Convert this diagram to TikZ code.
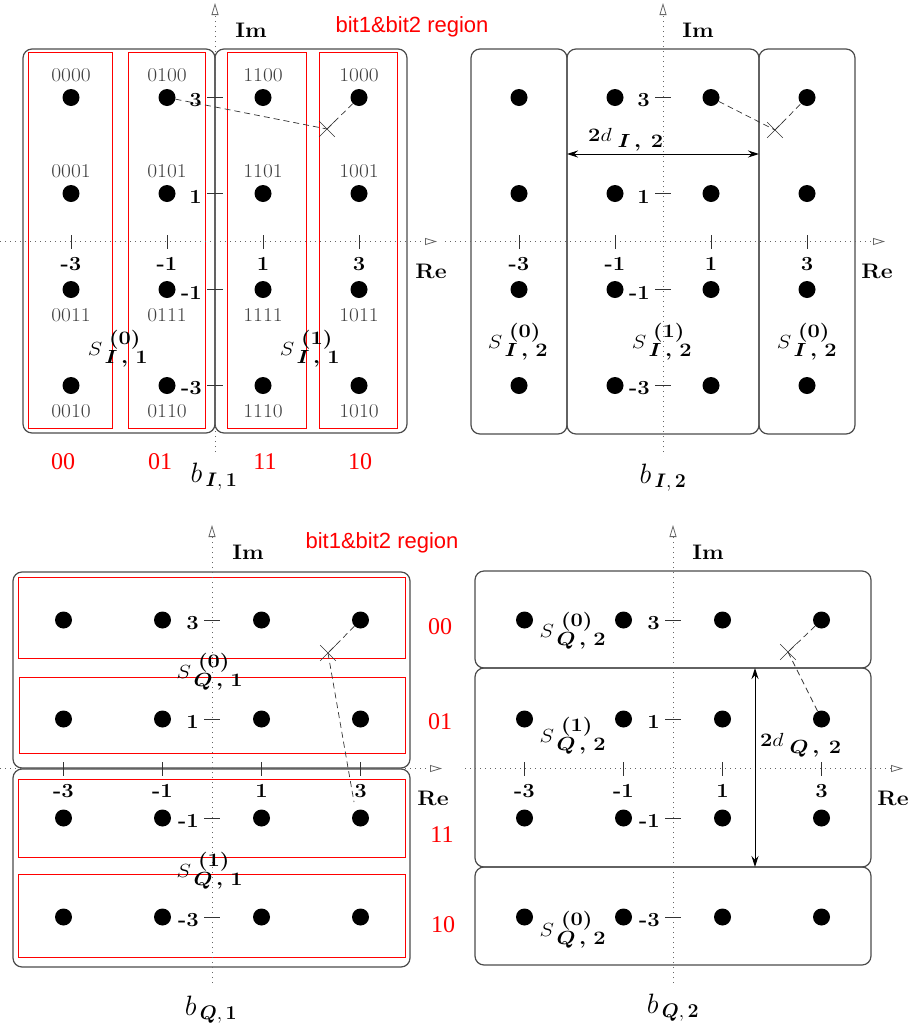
\RequirePackage{fix-cm}
\documentclass[tikz,border=0pt]{standalone}
\usepackage{fontspec}
\usepackage{bm}
\newfontfamily\redfont{Liberation Serif}
\newfontfamily\regfont{Liberation Sans}
\usetikzlibrary{arrows.meta,shapes.misc}
\newcommand\hx[1]{\scalebox{1.1}[1]{#1}}
\newcommand\slabel[3]{\scalebox{1.15}[1]{$S^{\textstyle\hspace{6pt}\bm{(#1)}}_{\textstyle\,\bm{#2}\,\bm{,}\,\bm{#3}}$}}
\newcommand\blabel[2]{$b_{\,\bm{#1},\,\bm{#2}}$}
\newcommand\dlabel[2]{\scalebox{1.15}[1]{$\bm{2}d_{\textstyle\;\bm{#1}\,\bm{,}\;\bm{#2}}$}}
\tikzset{
  dot/.style={circle, fill=black, inner sep=0pt, minimum size=17pt},
  axis/.style={draw=black!60, line width=0.9pt, dash pattern=on 1pt off 4pt,
    -{Triangle[open,length=12pt,width=7pt,line width=0.8pt,sep=0pt]}},
  tick/.style={line width=0.8pt, draw=black!80},
  grpbox/.style={draw=black!70, line width=1.2pt, rounded corners=9pt},
  redbox/.style={draw=red, line width=1pt},
  bits/.style={font=\fontsize{19.5}{19.5}\selectfont, text=black!75, inner sep=0pt},
  tlab/.style={font=\bfseries\fontsize{20}{20}\selectfont, inner sep=0pt},
  axlab/.style={font=\bfseries\fontsize{21}{21}\selectfont, inner sep=0pt},
  redlab/.style={text=red, font=\redfont\fontsize{24}{24}\selectfont, inner sep=0pt},
  reglab/.style={text=red, font=\regfont\fontsize{22}{22}\selectfont, inner sep=0pt},
  slab/.style={font=\fontsize{19}{19}\selectfont, inner sep=0pt},
  blab/.style={font=\fontsize{28}{28}\selectfont, inner sep=0pt},
  guess/.style={draw=black!80, line width=0.7pt, dash pattern=on 6pt off 4pt},
  xmark/.style={draw=black!80, cross out, minimum size=15pt, inner sep=0pt, line width=0.6pt},
  dist/.style={line width=1pt, {Stealth[length=11pt,width=7pt]}-{Stealth[length=11pt,width=7pt]}}
}
% #1 prefix, #2 Ox, #3 Oy, #4 unit, #5 h start, #6 h end, #7 v top, #8 v bottom
\newcommand\mypanel[8]{%
  \coordinate (#1hs) at (#5,#3);
  \coordinate (#1he) at (#6,#3);
  \coordinate (#1vs) at (#2,#8);
  \coordinate (#1ve) at (#2,#7);
  \draw[axis] (#1hs) -- (#1he);
  \draw[axis] (#1vs) -- (#1ve);
  \foreach \xv/\xn in {-3/m3,-1/m1,1/p1,3/p3}{
    \coordinate (#1tx\xn) at (#2+#4*\xv,#3);
    \draw[tick] ([yshift=-7pt]#1tx\xn) -- ([yshift=7pt]#1tx\xn);
    \node[tlab] (#1lx\xn) at (#2+#4*\xv,#3+0.46*#4) {\hx{\xv}};
    \foreach \yv/\yn in {3/p3,1/p1,-1/m1,-3/m3}{
      \node[dot] (#1\xn\yn) at (#2+#4*\xv,#3-#4*\yv) {};
    }
  }
  \foreach \yv/\yn in {3/p3,1/p1,-1/m1,-3/m3}{
    \coordinate (#1ty\yn) at (#2,#3-#4*\yv);
    \draw[tick] ([xshift=-8pt]#1ty\yn) -- ([xshift=8pt]#1ty\yn);
    \node[tlab,anchor=east] (#1ly\yn) at (#2-13,#3-#4*\yv+3) {\hx{\yv}};
  }
}
\begin{document}
\begin{tikzpicture}[x=1pt,y=-1pt]
\useasboundingbox (0,0) rectangle (915,1034);
% ---------------- panel A : b_{I,1}
\draw[grpbox] (23,49) rectangle (215,433);
\draw[grpbox] (215,49) rectangle (407,433);
\draw[redbox] (28,52) rectangle (112,428);
\draw[redbox] (128,52) rectangle (205,428);
\draw[redbox] (227,52) rectangle (306,428);
\draw[redbox] (319,52) rectangle (397,428);
\mypanel{A}{215}{241.5}{48}{0}{437}{3}{452}
\foreach \xv/\xn/\xb in {-3/m3/00,-1/m1/01,1/p1/11,3/p3/10}{
  \foreach \yv/\yn/\yb/\off in {3/p3/00/-22,1/p1/01/-22,-1/m1/11/26,-3/m3/10/26}{
    \node[bits] (Abit\xn\yn) at (215+48*\xv,241.5-48*\yv+\off) {\hx{\xb\yb}};
  }
}
\node[axlab] (Aim) at (251,30) {\hx{Im}};
\node[axlab] (Are) at (431,271) {\hx{Re}};
\node[reglab] (Areg) at (412,27) {bit1\&bit2 region};
\node[slab] (AS0) at (118,349) {\slabel{0}{I}{1}};
\node[slab] (AS1) at (310,349) {\slabel{1}{I}{1}};
\node[redlab] (Ar00) at (63,462) {00};
\node[redlab] (Ar01) at (160,462) {01};
\node[redlab] (Ar11) at (265,462) {11};
\node[redlab] (Ar10) at (360,462) {10};
\node[blab] (Ab) at (214,477) {\blabel{I}{1}};
\node[xmark] (AX) at (327,129) {};
\draw[guess] (Am1p3) -- (AX.center);
\draw[guess] (AX.center) -- (Ap3p3);
% ---------------- panel B : b_{I,2}
\draw[grpbox] (471,49) rectangle (567,434);
\draw[grpbox] (567,49) rectangle (759,434);
\draw[grpbox] (759,49) rectangle (855,434);
\mypanel{B}{663}{241.5}{48}{445}{885}{3}{452}
\node[axlab] (Bim) at (698,30) {\hx{Im}};
\node[axlab] (Bre) at (877,271) {\hx{Re}};
\coordinate (Bd1) at (567,154);
\coordinate (Bd2) at (759,154);
\draw[dist] (Bd1) -- (Bd2);
\node[slab] (Bd) at (626,140) {\dlabel{I}{2}};
\node[slab] (BS0a) at (518,342) {\slabel{0}{I}{2}};
\node[slab] (BS1) at (662,342) {\slabel{1}{I}{2}};
\node[slab] (BS0b) at (807,342) {\slabel{0}{I}{2}};
\node[blab] (Bb) at (663,478) {\blabel{I}{2}};
\node[xmark] (BX) at (775,130) {};
\draw[guess] (Bp1p3) -- (BX.center);
\draw[guess] (BX.center) -- (Bp3p3);
% ---------------- panel C : b_{Q,1}
\draw[grpbox] (13,572) rectangle (410,768);
\draw[grpbox] (13,769) rectangle (410,967);
\draw[redbox] (18,577) rectangle (405,658);
\draw[redbox] (19,677) rectangle (405,753);
\draw[redbox] (18,779) rectangle (405,857);
\draw[redbox] (18,874) rectangle (405,957);
\mypanel{C}{212}{768.5}{49.5}{0}{442}{525}{983}
\node[axlab] (Cim) at (248,552) {\hx{Im}};
\node[axlab] (Cre) at (433,798) {\hx{Re}};
\node[reglab] (Creg) at (382,543) {bit1\&bit2 region};
\node[redlab] (Cr00) at (440,627) {00};
\node[redlab] (Cr01) at (440,722) {01};
\node[redlab] (Cr11) at (442,835) {11};
\node[redlab] (Cr10) at (443,925) {10};
\node[slab] (CS0) at (210,672) {\slabel{0}{Q}{1}};
\node[slab] (CS1) at (210,871) {\slabel{1}{Q}{1}};
\node[blab] (Cb) at (211,1010) {\blabel{Q}{1}};
\node[xmark] (CX) at (328,653) {};
\coordinate (Cend) at (354,802);
\draw[guess] (Cp3p3) -- (CX.center);
\draw[guess] (CX.center) -- (Cend);
% ---------------- panel D : b_{Q,2}
\draw[grpbox] (475,571) rectangle (871,668);
\draw[grpbox] (475,668) rectangle (871,867);
\draw[grpbox] (475,867) rectangle (871,965);
\mypanel{D}{673}{768.5}{49.5}{465}{903}{525}{983}
\node[axlab] (Dim) at (708,552) {\hx{Im}};
\node[axlab] (Dre) at (893,798) {\hx{Re}};
\coordinate (Dd1) at (755,668);
\coordinate (Dd2) at (755,867);
\draw[dist] (Dd1) -- (Dd2);
\node[slab] (Dd) at (801,745) {\dlabel{Q}{2}};
\node[slab] (DS0a) at (573,631) {\slabel{0}{Q}{2}};
\node[slab] (DS1) at (573,736) {\slabel{1}{Q}{2}};
\node[slab] (DS0b) at (573,930) {\slabel{0}{Q}{2}};
\node[blab] (Db) at (673,1008) {\blabel{Q}{2}};
\node[xmark] (DX) at (788,652) {};
\draw[guess] (Dp3p3) -- (DX.center);
\draw[guess] (DX.center) -- (Dp3p1);
\end{tikzpicture}
\end{document}
